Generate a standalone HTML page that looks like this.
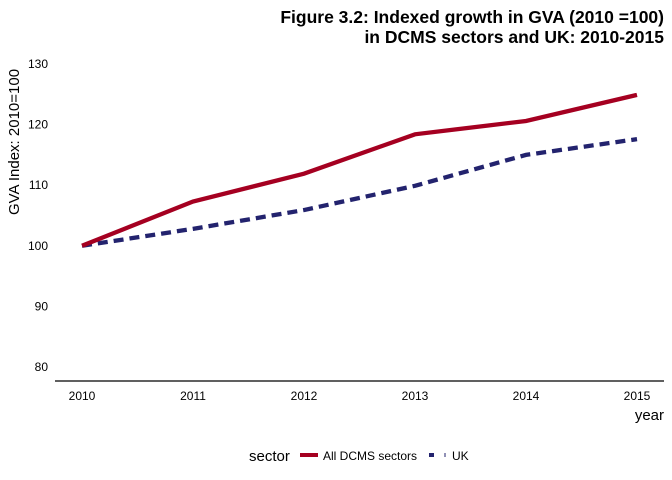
<!DOCTYPE html>
<html><head><meta charset="utf-8"><style>
body{margin:0;background:#fff;font-family:"Liberation Sans",sans-serif;}
svg{display:block}
</style></head><body>
<svg id="chart" width="672" height="480" xmlns="http://www.w3.org/2000/svg">
<text x="664" y="23" text-anchor="end" font-size="17.5" font-weight="bold" fill="#000">Figure 3.2: Indexed growth in GVA (2010 =100)</text>
<text x="664" y="43" text-anchor="end" font-size="17.5" font-weight="bold" fill="#000">in DCMS sectors and UK: 2010-2015</text>
<text transform="translate(19,142) rotate(-90)" text-anchor="middle" font-size="15" fill="#000">GVA Index: 2010=100</text>
<text x="664" y="420" text-anchor="end" font-size="15" fill="#000">year</text>
<line x1="55" y1="381" x2="664" y2="381" stroke="#000" stroke-width="1.2"/>
<g id="yticks"></g>
<g id="xticks"></g>
<g id="lines"></g>
<g>
<text x="249" y="461" font-size="15" fill="#000">sector</text>
<line x1="300" y1="455" x2="318" y2="455" stroke="#a50021" stroke-width="4"/>
<text x="323" y="460" font-size="12" fill="#000">All DCMS sectors</text>
<line x1="429" y1="455" x2="434" y2="455" stroke="#23236e" stroke-width="4"/>
<line x1="445" y1="453" x2="445" y2="457" stroke="#23236e" stroke-width="1"/>
<text x="452" y="460" font-size="12" fill="#000">UK</text>
</g>
</svg>
<script>
const years = [2010, 2011, 2012, 2013, 2014, 2015];
const dcmsValues = [100, 107.3, 111.9, 118.4, 120.6, 124.9];
const ukValues = [100, 102.8, 105.9, 109.9, 115.0, 117.6];
const yTicks = [80, 90, 100, 110, 120, 130];

const NS = "http://www.w3.org/2000/svg";
function xScale(yr){ return 82 + (yr - 2010) * 111; }
function yScale(v){ return 367 - (v - 80) * 6.06; }

const yg = document.getElementById('yticks');
yTicks.forEach(t => {
  const el = document.createElementNS(NS, 'text');
  el.setAttribute('x', 48); el.setAttribute('y', yScale(t) + 4);
  el.setAttribute('text-anchor', 'end'); el.setAttribute('font-size', '12'); el.setAttribute('fill', '#000');
  
  
  el.textContent = t; yg.appendChild(el);
});
const xg = document.getElementById('xticks');
years.forEach(y => {
  const el = document.createElementNS(NS, 'text');
  el.setAttribute('x', xScale(y)); el.setAttribute('y', 400);
  el.setAttribute('text-anchor', 'middle'); el.setAttribute('font-size', '12'); el.setAttribute('fill', '#000');
  
  
  el.textContent = y; xg.appendChild(el);
});
const lg = document.getElementById('lines');
function drawLine(vals, color, dash, name){
  const p = document.createElementNS(NS, 'polyline');
  p.setAttribute('points', vals.map((v,i) => xScale(years[i]) + ',' + yScale(v)).join(' '));
  p.setAttribute('fill', 'none'); p.setAttribute('stroke', color); p.setAttribute('stroke-width', '4.3');
  if (dash) p.setAttribute('stroke-dasharray', dash);
  
  
  lg.appendChild(p);
}
drawLine(ukValues, '#23236e', '10 6', 'line-uk');
drawLine(dcmsValues, '#a50021', null, 'line-all-dcms-sectors');
</script>
</body></html>
